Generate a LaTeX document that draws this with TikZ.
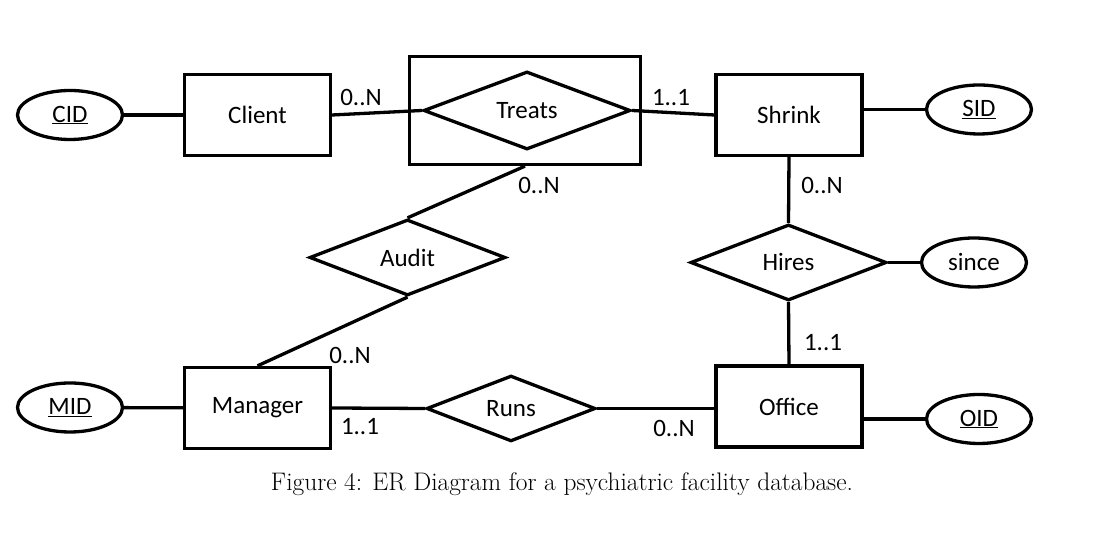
\documentclass[tikz,border=0pt]{standalone}
\usepackage{fontspec}
\setmainfont{Carlito}
\newfontfamily\captionfont{Latin Modern Roman}
\usepackage{tikz}
\usetikzlibrary{calc}
\usetikzlibrary{shapes.geometric}

\tikzset{
  entity/.style={draw,line width=3.3pt,minimum width=146pt,minimum height=81pt,inner sep=0pt},
  relation/.style={draw,diamond,line width=3.3pt,inner sep=0pt},
  attrib/.style={draw,ellipse,line width=3.3pt,minimum width=105pt,minimum height=49pt,inner sep=0pt},
  card/.style={inner sep=0pt},
}

\begin{document}
\begin{tikzpicture}[x=1pt,y=1pt,line width=3.3pt,font=\fontsize{25}{30}\selectfont]
            \useasboundingbox (0,0) rectangle (1112,534);

            % entities
            \node[entity] (client) at (257.5,419) {Client};
            \node[entity] (shrink) at (789,419) {Shrink};
            \node[entity] (manager) at (257.5,126) {Manager};
            \node[entity] (office) at (789,127.5) {Office};

            % relationships
            \node[draw,line width=3.3pt,minimum width=231pt,minimum height=108pt] (treatsbox) at (525,423.5) {};
            \node[relation,minimum width=207pt,minimum height=78pt] (treats) at (527,423.5) {Treats};
            \node[relation,minimum width=196pt,minimum height=76pt] (hires) at (788.5,271.5) {Hires};
            \node[relation,minimum width=196pt,minimum height=76pt] (audit) at (407.5,276.5) {Audit};
            \node[relation,minimum width=169pt,minimum height=50pt] (runs) at (511,125.5) {Runs};

            % attributes
            \node[attrib] (cid) at (70,419) {\underline{CID}};
            \node[attrib] (sid) at (979,424.5) {\underline{SID}};
            \node[attrib] (since) at (974,271.5) {since};
            \node[attrib] (oid) at (979,115) {\underline{OID}};
            \node[attrib] (mid) at (70,126.5) {\underline{MID}};

            \draw (cid)--(client);
            \draw (client.east)--(treats.west);
            \draw (treats.east)--(shrink.west);
            \draw (sid.west)--(sid.west -| shrink.east);
            \draw (shrink.south)--(hires.north);
            \draw (hires.east)--(since.west);
            \draw (hires.south)--(office.north);
            \draw (oid.west)--(oid.west -| office.east);
            \draw (mid)--(manager);
            \draw (manager.east)--(runs.west);
            \draw (runs.east)--(runs.east -| office.west);
            \draw (treatsbox.south)--(audit.north);
            \draw (audit.south)--(manager.north);

            % cardinalities
            \node[card] (c1) at (361,437) {0..N};
            \node[card] (c2) at (671,436) {1..1};
            \node[card] (c3) at (539,349) {0..N};
            \node[card] (c4) at (822,349) {0..N};
            \node[card] (c5) at (823,191) {1..1};
            \node[card] (c6) at (350,179) {0..N};
            \node[card] (c7) at (360,107) {1..1};
            \node[card] (c8) at (674,106) {0..N};

            \node[font=\captionfont\fontsize{25.4}{30}\selectfont] (caption) at (562,50)
              {Figure 4: ER Diagram for a psychiatric facility database.};
        \end{tikzpicture}
\end{document}
